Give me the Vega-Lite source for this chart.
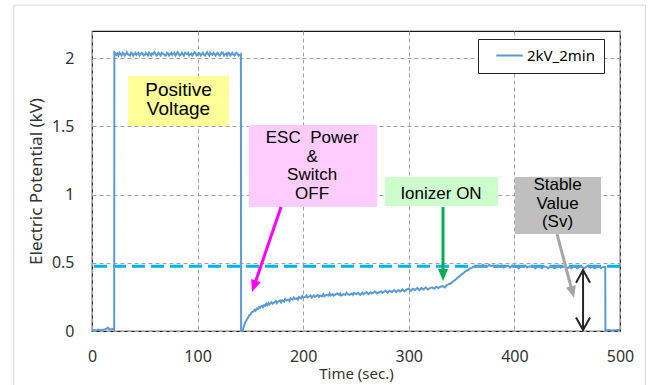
{
  "$schema": "https://vega.github.io/schema/vega-lite/v6.json",
  "width": 528,
  "height": 300,
  "autosize": {"type": "none"},
  "padding": {"left": 92, "top": 31, "right": 33, "bottom": 54},
  "background": "#ffffff",
  "config": {
    "view": {"stroke": "#1a1a1a", "strokeWidth": 1.2},
    "axis": {
      "grid": true, "gridColor": "#A0A0A0", "gridDash": [4, 3], "gridWidth": 1,
      "domain": false, "ticks": false, "labelFlush": false,
      "labelFont": "Noto Sans", "labelFontSize": 16, "labelColor": "#333333",
      "titleFont": "Noto Sans", "titleFontSize": 15, "titleFontWeight": "normal", "titleColor": "#333333"
    },
    "legend": {
      "orient": "none", "legendX": 386, "legendY": 8,
      "strokeColor": "#262626", "fillColor": "#ffffff", "padding": 9,
      "symbolSize": 700, "symbolStrokeWidth": 2, "symbolOffset": 8,
      "labelFont": "Noto Sans", "labelFontSize": 15, "labelColor": "#000000",
      "clipHeight": 15, "labelOffset": 3
    }
  },
  "datasets": {
    "series": [
      {"t": 0, "v": 0.005}, {"t": 2, "v": 0.008}, {"t": 4, "v": 0.004}, {"t": 6, "v": 0.01}, {"t": 8, "v": 0.006},
      {"t": 10, "v": 0.009}, {"t": 12, "v": 0.012}, {"t": 14, "v": 0.018}, {"t": 15, "v": 0.025}, {"t": 16, "v": 0.015},
      {"t": 18, "v": 0.012}, {"t": 20, "v": 0.016}, {"t": 21, "v": 0.01},
      {"t": 21.2, "v": 2.045}, {"t": 22, "v": 2.04}, {"t": 23, "v": 2.025}, {"t": 24, "v": 2.035}, {"t": 25, "v": 2.02}, {"t": 26, "v": 2.04}, {"t": 27, "v": 2.03}, {"t": 28, "v": 2.02},
      {"t": 29, "v": 2.04}, {"t": 30, "v": 2.035}, {"t": 31, "v": 2.02}, {"t": 32, "v": 2.03}, {"t": 33, "v": 2.045}, {"t": 34, "v": 2.03}, {"t": 35, "v": 2.025}, {"t": 36, "v": 2.02}, {"t": 37, "v": 2.04}, {"t": 38, "v": 2.035},
      {"t": 39, "v": 2.02}, {"t": 40, "v": 2.03}, {"t": 41, "v": 2.04}, {"t": 42, "v": 2.025}, {"t": 43, "v": 2.035}, {"t": 44, "v": 2.04}, {"t": 45, "v": 2.02}, {"t": 46, "v": 2.03}, {"t": 47, "v": 2.04}, {"t": 48, "v": 2.035},
      {"t": 49, "v": 2.02}, {"t": 50, "v": 2.025}, {"t": 51, "v": 2.04}, {"t": 52, "v": 2.03}, {"t": 53, "v": 2.02}, {"t": 54, "v": 2.04}, {"t": 55, "v": 2.03}, {"t": 56, "v": 2.02}, {"t": 57, "v": 2.035}, {"t": 58, "v": 2.03},
      {"t": 59, "v": 2.045}, {"t": 60, "v": 2.035}, {"t": 61, "v": 2.02}, {"t": 62, "v": 2.025}, {"t": 63, "v": 2.04}, {"t": 64, "v": 2.03}, {"t": 65, "v": 2.02}, {"t": 66, "v": 2.04}, {"t": 67, "v": 2.035}, {"t": 68, "v": 2.03},
      {"t": 69, "v": 2.02}, {"t": 70, "v": 2.02}, {"t": 71, "v": 2.04}, {"t": 72, "v": 2.035}, {"t": 73, "v": 2.02}, {"t": 74, "v": 2.03}, {"t": 75, "v": 2.04}, {"t": 76, "v": 2.025}, {"t": 77, "v": 2.035}, {"t": 78, "v": 2.04},
      {"t": 79, "v": 2.02}, {"t": 80, "v": 2.03}, {"t": 81, "v": 2.045}, {"t": 82, "v": 2.035}, {"t": 83, "v": 2.02}, {"t": 84, "v": 2.025}, {"t": 85, "v": 2.04}, {"t": 86, "v": 2.03}, {"t": 87, "v": 2.02}, {"t": 88, "v": 2.04},
      {"t": 89, "v": 2.035}, {"t": 90, "v": 2.03}, {"t": 91, "v": 2.04}, {"t": 92, "v": 2.02}, {"t": 93, "v": 2.03}, {"t": 94, "v": 2.035}, {"t": 95, "v": 2.02}, {"t": 96, "v": 2.03}, {"t": 97, "v": 2.045}, {"t": 98, "v": 2.04},
      {"t": 99, "v": 2.02}, {"t": 100, "v": 2.025}, {"t": 101, "v": 2.04}, {"t": 102, "v": 2.035}, {"t": 103, "v": 2.02}, {"t": 104, "v": 2.03}, {"t": 105, "v": 2.04}, {"t": 106, "v": 2.025}, {"t": 107, "v": 2.02}, {"t": 108, "v": 2.035},
      {"t": 109, "v": 2.045}, {"t": 110, "v": 2.03}, {"t": 111, "v": 2.02}, {"t": 112, "v": 2.04}, {"t": 113, "v": 2.03}, {"t": 114, "v": 2.025}, {"t": 115, "v": 2.04}, {"t": 116, "v": 2.03}, {"t": 117, "v": 2.02}, {"t": 118, "v": 2.035},
      {"t": 119, "v": 2.04}, {"t": 120, "v": 2.025}, {"t": 121, "v": 2.02}, {"t": 122, "v": 2.03}, {"t": 123, "v": 2.045}, {"t": 124, "v": 2.04}, {"t": 125, "v": 2.02}, {"t": 126, "v": 2.03}, {"t": 127, "v": 2.035}, {"t": 128, "v": 2.02},
      {"t": 129, "v": 2.04}, {"t": 130, "v": 2.035}, {"t": 131, "v": 2.02}, {"t": 132, "v": 2.03}, {"t": 133, "v": 2.04}, {"t": 134, "v": 2.025}, {"t": 135, "v": 2.02}, {"t": 136, "v": 2.035}, {"t": 137, "v": 2.04}, {"t": 138, "v": 2.03},
      {"t": 139, "v": 2.02}, {"t": 140, "v": 2.025}, {"t": 141, "v": 2.03},
      {"t": 141.2, "v": 0.0}, {"t": 142.5, "v": 0.0}, {"t": 143, "v": 0.01}, {"t": 144, "v": 0.04}, {"t": 145, "v": 0.06},
      {"t": 146, "v": 0.075}, {"t": 147, "v": 0.09}, {"t": 148, "v": 0.1}, {"t": 149, "v": 0.115}, {"t": 150, "v": 0.12}, {"t": 151, "v": 0.135}, {"t": 152, "v": 0.14},
      {"t": 153, "v": 0.145}, {"t": 154, "v": 0.155}, {"t": 155, "v": 0.15}, {"t": 156, "v": 0.165}, {"t": 157, "v": 0.16}, {"t": 158, "v": 0.175}, {"t": 159, "v": 0.17}, {"t": 160, "v": 0.18}, {"t": 161, "v": 0.185}, {"t": 162, "v": 0.175},
      {"t": 163, "v": 0.19}, {"t": 164, "v": 0.185}, {"t": 165, "v": 0.2}, {"t": 166, "v": 0.19}, {"t": 167, "v": 0.205}, {"t": 168, "v": 0.195}, {"t": 170, "v": 0.21}, {"t": 171, "v": 0.2}, {"t": 172, "v": 0.205},
      {"t": 174, "v": 0.22}, {"t": 175, "v": 0.205}, {"t": 176, "v": 0.215}, {"t": 178, "v": 0.225}, {"t": 179, "v": 0.21}, {"t": 180, "v": 0.225}, {"t": 182, "v": 0.215},
      {"t": 183, "v": 0.235}, {"t": 184, "v": 0.225}, {"t": 186, "v": 0.23}, {"t": 187, "v": 0.22}, {"t": 188, "v": 0.24}, {"t": 190, "v": 0.23}, {"t": 191, "v": 0.245}, {"t": 192, "v": 0.235},
      {"t": 194, "v": 0.24}, {"t": 195, "v": 0.23}, {"t": 196, "v": 0.25}, {"t": 198, "v": 0.24}, {"t": 199, "v": 0.255}, {"t": 200, "v": 0.245}, {"t": 202, "v": 0.25},
      {"t": 203, "v": 0.26}, {"t": 204, "v": 0.245}, {"t": 206, "v": 0.255}, {"t": 207, "v": 0.26}, {"t": 208, "v": 0.245}, {"t": 210, "v": 0.26}, {"t": 211, "v": 0.25}, {"t": 212, "v": 0.255},
      {"t": 214, "v": 0.265}, {"t": 215, "v": 0.25}, {"t": 216, "v": 0.26}, {"t": 218, "v": 0.255}, {"t": 219, "v": 0.27}, {"t": 220, "v": 0.255}, {"t": 222, "v": 0.265},
      {"t": 224, "v": 0.26}, {"t": 225, "v": 0.275}, {"t": 226, "v": 0.26}, {"t": 228, "v": 0.27}, {"t": 229, "v": 0.26}, {"t": 230, "v": 0.265}, {"t": 232, "v": 0.275},
      {"t": 234, "v": 0.265}, {"t": 235, "v": 0.275}, {"t": 236, "v": 0.26}, {"t": 238, "v": 0.27}, {"t": 240, "v": 0.265}, {"t": 241, "v": 0.28}, {"t": 242, "v": 0.27},
      {"t": 244, "v": 0.265}, {"t": 246, "v": 0.275}, {"t": 247, "v": 0.265}, {"t": 248, "v": 0.28}, {"t": 250, "v": 0.27}, {"t": 252, "v": 0.28},
      {"t": 254, "v": 0.265}, {"t": 256, "v": 0.28}, {"t": 257, "v": 0.27}, {"t": 258, "v": 0.275}, {"t": 260, "v": 0.285}, {"t": 262, "v": 0.27},
      {"t": 264, "v": 0.285}, {"t": 265, "v": 0.275}, {"t": 266, "v": 0.28}, {"t": 268, "v": 0.29}, {"t": 270, "v": 0.275}, {"t": 272, "v": 0.285},
      {"t": 274, "v": 0.29}, {"t": 275, "v": 0.28}, {"t": 276, "v": 0.285}, {"t": 278, "v": 0.295}, {"t": 280, "v": 0.28}, {"t": 282, "v": 0.295},
      {"t": 284, "v": 0.285}, {"t": 286, "v": 0.3}, {"t": 288, "v": 0.285}, {"t": 290, "v": 0.3}, {"t": 292, "v": 0.29},
      {"t": 294, "v": 0.305}, {"t": 296, "v": 0.29}, {"t": 298, "v": 0.305}, {"t": 300, "v": 0.31}, {"t": 302, "v": 0.295},
      {"t": 304, "v": 0.31}, {"t": 306, "v": 0.3}, {"t": 308, "v": 0.315}, {"t": 310, "v": 0.3}, {"t": 312, "v": 0.315},
      {"t": 314, "v": 0.305}, {"t": 316, "v": 0.32}, {"t": 318, "v": 0.305}, {"t": 320, "v": 0.315}, {"t": 322, "v": 0.32},
      {"t": 324, "v": 0.31}, {"t": 326, "v": 0.325}, {"t": 328, "v": 0.315}, {"t": 330, "v": 0.325}, {"t": 332, "v": 0.33},
      {"t": 334, "v": 0.32}, {"t": 336, "v": 0.335}, {"t": 338, "v": 0.345}, {"t": 340, "v": 0.35}, {"t": 342, "v": 0.365},
      {"t": 344, "v": 0.375}, {"t": 346, "v": 0.39}, {"t": 348, "v": 0.4}, {"t": 350, "v": 0.415}, {"t": 352, "v": 0.425},
      {"t": 354, "v": 0.44}, {"t": 356, "v": 0.445}, {"t": 358, "v": 0.46}, {"t": 360, "v": 0.465}, {"t": 362, "v": 0.475},
      {"t": 364, "v": 0.47}, {"t": 366, "v": 0.48}, {"t": 368, "v": 0.47}, {"t": 370, "v": 0.485}, {"t": 372, "v": 0.475},
      {"t": 374, "v": 0.47}, {"t": 376, "v": 0.485}, {"t": 378, "v": 0.475}, {"t": 380, "v": 0.48}, {"t": 382, "v": 0.47},
      {"t": 384, "v": 0.48}, {"t": 386, "v": 0.47}, {"t": 388, "v": 0.48}, {"t": 390, "v": 0.465}, {"t": 392, "v": 0.475},
      {"t": 394, "v": 0.48}, {"t": 396, "v": 0.465}, {"t": 398, "v": 0.48}, {"t": 400, "v": 0.47}, {"t": 402, "v": 0.475},
      {"t": 404, "v": 0.46}, {"t": 406, "v": 0.475}, {"t": 408, "v": 0.47}, {"t": 410, "v": 0.48}, {"t": 412, "v": 0.465},
      {"t": 414, "v": 0.475}, {"t": 416, "v": 0.47}, {"t": 418, "v": 0.475}, {"t": 420, "v": 0.46}, {"t": 422, "v": 0.475},
      {"t": 424, "v": 0.47}, {"t": 426, "v": 0.46}, {"t": 428, "v": 0.475}, {"t": 430, "v": 0.47}, {"t": 432, "v": 0.46},
      {"t": 434, "v": 0.475}, {"t": 436, "v": 0.47}, {"t": 438, "v": 0.46}, {"t": 440, "v": 0.47}, {"t": 442, "v": 0.48},
      {"t": 444, "v": 0.465}, {"t": 446, "v": 0.47}, {"t": 448, "v": 0.475}, {"t": 450, "v": 0.46}, {"t": 452, "v": 0.47},
      {"t": 454, "v": 0.46}, {"t": 456, "v": 0.475}, {"t": 458, "v": 0.47}, {"t": 460, "v": 0.46}, {"t": 462, "v": 0.475},
      {"t": 464, "v": 0.47}, {"t": 466, "v": 0.46}, {"t": 468, "v": 0.47}, {"t": 470, "v": 0.48}, {"t": 472, "v": 0.465},
      {"t": 474, "v": 0.47}, {"t": 476, "v": 0.46}, {"t": 478, "v": 0.47}, {"t": 480, "v": 0.475}, {"t": 482, "v": 0.46},
      {"t": 484, "v": 0.47}, {"t": 486, "v": 0.47},
      {"t": 486.2, "v": 0.005}, {"t": 488, "v": 0.005}, {"t": 490, "v": 0.008}, {"t": 492, "v": 0.004}, {"t": 494, "v": 0.006},
      {"t": 496, "v": 0.005}, {"t": 498, "v": 0.007}, {"t": 500, "v": 0.005}
    ]
  },
  "layer": [
    {
      "data": {"values": [{"x": -74, "x2": 524, "y": 2.39, "y2": -0.6}]},
      "mark": {"type": "rect", "fill": null, "fillOpacity": 0, "stroke": "#D9D9D9", "strokeWidth": 1, "clip": false},
      "encoding": {
        "x": {"field": "x", "type": "quantitative", "scale": {"domain": [0, 500], "nice": false, "zero": false},
              "axis": {"values": [0, 100, 200, 300, 400, 500], "title": "Time (sec.)", "labelPadding": 17, "titlePadding": 2, "titleFontSize": 15}},
        "x2": {"field": "x2"},
        "y": {"field": "y", "type": "quantitative", "scale": {"domain": [0, 2.2], "nice": false, "zero": false},
              "axis": {"values": [0, 0.5, 1, 1.5, 2], "format": "~g", "title": "Electric Potential (kV)", "labelPadding": 18, "titlePadding": 6, "titleFontSize": 17}},
        "y2": {"field": "y2"}
      }
    },
    {
      "data": {"values": [{"v": 0.474}]},
      "mark": {"type": "rule", "stroke": "#00B0F0", "strokeWidth": 3, "strokeDash": [13, 6]},
      "encoding": {"y": {"field": "v", "type": "quantitative"}}
    },
    {
      "data": {"name": "series"},
      "mark": {"type": "line", "strokeWidth": 2},
      "encoding": {
        "x": {"field": "t", "type": "quantitative"},
        "y": {"field": "v", "type": "quantitative"},
        "color": {"datum": "2kV_2min", "type": "nominal", "scale": {"range": ["#5B9BD5"]}, "legend": {"title": null}}
      }
    },
    {
      "data": {"values": [
        {"box": "yellow", "x": 34.1, "x2": 129.7, "y": 1.87, "y2": 1.503},
        {"box": "pink", "x": 148.5, "x2": 270, "y": 1.51, "y2": 0.909},
        {"box": "green", "x": 277.5, "x2": 384.5, "y": 1.129, "y2": 0.917},
        {"box": "gray", "x": 400.6, "x2": 482, "y": 1.129, "y2": 0.711}
      ]},
      "mark": {"type": "rect"},
      "encoding": {
        "x": {"field": "x", "type": "quantitative"},
        "x2": {"field": "x2"},
        "y": {"field": "y", "type": "quantitative"},
        "y2": {"field": "y2"},
        "fill": {"field": "box", "type": "nominal", "legend": null,
                 "scale": {"domain": ["yellow", "pink", "green", "gray"], "range": ["#FFFF99", "#FFCCFF", "#CCFFCC", "#BFBFBF"]}}
      }
    },
    {
      "data": {"values": [{"x": 81.9, "y": 1.767, "label": "Positive\nVoltage"}]},
      "mark": {"type": "text", "font": "Liberation Sans", "fontSize": 19, "lineHeight": 19, "lineBreak": "\n", "align": "center", "baseline": "middle", "color": "#000000"},
      "encoding": {"x": {"field": "x", "type": "quantitative"}, "y": {"field": "y", "type": "quantitative"}, "text": {"field": "label"}}
    },
    {
      "data": {"values": [
        {"x": 208.4, "y": 1.415, "label": "ESC\u00a0 Power\n&\nSwitch\nOFF"},
        {"x": 330.5, "y": 1.005, "label": "Ionizer ON"},
        {"x": 440.8, "y": 1.071, "label": "Stable\nValue\n(Sv)"}
      ]},
      "mark": {"type": "text", "font": "Liberation Sans", "fontSize": 17, "lineHeight": 18.7, "lineBreak": "\n", "align": "center", "baseline": "middle", "color": "#000000"},
      "encoding": {"x": {"field": "x", "type": "quantitative"}, "y": {"field": "y", "type": "quantitative"}, "text": {"field": "label"}}
    },
    {
      "data": {"values": [{"x": 179, "y": 0.91, "x2": 153.4, "y2": 0.328}]},
      "mark": {"type": "rule", "stroke": "#FF00FF", "strokeWidth": 3},
      "encoding": {"x": {"field": "x", "type": "quantitative"}, "y": {"field": "y", "type": "quantitative"}, "x2": {"field": "x2"}, "y2": {"field": "y2"}}
    },
    {
      "data": {"values": [{"x": 151.5, "y": 0.286}]},
      "mark": {"type": "point", "shape": "M 0 0 L 1 2.4 L -1 2.4 Z", "filled": true, "size": 100, "angle": 199, "color": "#FF00FF", "opacity": 1},
      "encoding": {"x": {"field": "x", "type": "quantitative"}, "y": {"field": "y", "type": "quantitative"}}
    },
    {
      "data": {"values": [{"x": 332.4, "y": 0.909, "x2": 332.4, "y2": 0.411}]},
      "mark": {"type": "rule", "stroke": "#00B050", "strokeWidth": 3},
      "encoding": {"x": {"field": "x", "type": "quantitative"}, "y": {"field": "y", "type": "quantitative"}, "x2": {"field": "x2"}, "y2": {"field": "y2"}}
    },
    {
      "data": {"values": [{"x": 332.4, "y": 0.367}]},
      "mark": {"type": "point", "shape": "M 0 0 L 1 2.4 L -1 2.4 Z", "filled": true, "size": 100, "angle": 180, "color": "#00B050", "opacity": 1},
      "encoding": {"x": {"field": "x", "type": "quantitative"}, "y": {"field": "y", "type": "quantitative"}}
    },
    {
      "data": {"values": [{"x": 440.4, "y": 0.711, "x2": 454.9, "y2": 0.285}]},
      "mark": {"type": "rule", "stroke": "#A6A6A6", "strokeWidth": 3},
      "encoding": {"x": {"field": "x", "type": "quantitative"}, "y": {"field": "y", "type": "quantitative"}, "x2": {"field": "x2"}, "y2": {"field": "y2"}}
    },
    {
      "data": {"values": [{"x": 456.5, "y": 0.242}]},
      "mark": {"type": "point", "shape": "M 0 0 L 1 2.4 L -1 2.4 Z", "filled": true, "size": 100, "angle": 165, "color": "#A6A6A6", "opacity": 1},
      "encoding": {"x": {"field": "x", "type": "quantitative"}, "y": {"field": "y", "type": "quantitative"}}
    },
    {
      "data": {"values": [{"x": 465, "y": 0.447, "x2": 465, "y2": 0.007}]},
      "mark": {"type": "rule", "stroke": "#262626", "strokeWidth": 2},
      "encoding": {"x": {"field": "x", "type": "quantitative"}, "y": {"field": "y", "type": "quantitative"}, "x2": {"field": "x2"}, "y2": {"field": "y2"}}
    },
    {
      "data": {"values": [{"x": 465, "y": 0.447}]},
      "mark": {"type": "point", "shape": "M -1 1.8 L 0 0 L 1 1.8", "filled": false, "size": 196, "angle": 0, "stroke": "#262626", "strokeWidth": 2, "opacity": 1},
      "encoding": {"x": {"field": "x", "type": "quantitative"}, "y": {"field": "y", "type": "quantitative"}}
    },
    {
      "data": {"values": [{"x": 465, "y": 0.007}]},
      "mark": {"type": "point", "shape": "M -1 1.8 L 0 0 L 1 1.8", "filled": false, "size": 196, "angle": 180, "stroke": "#262626", "strokeWidth": 2, "opacity": 1},
      "encoding": {"x": {"field": "x", "type": "quantitative"}, "y": {"field": "y", "type": "quantitative"}}
    }
  ]
}
